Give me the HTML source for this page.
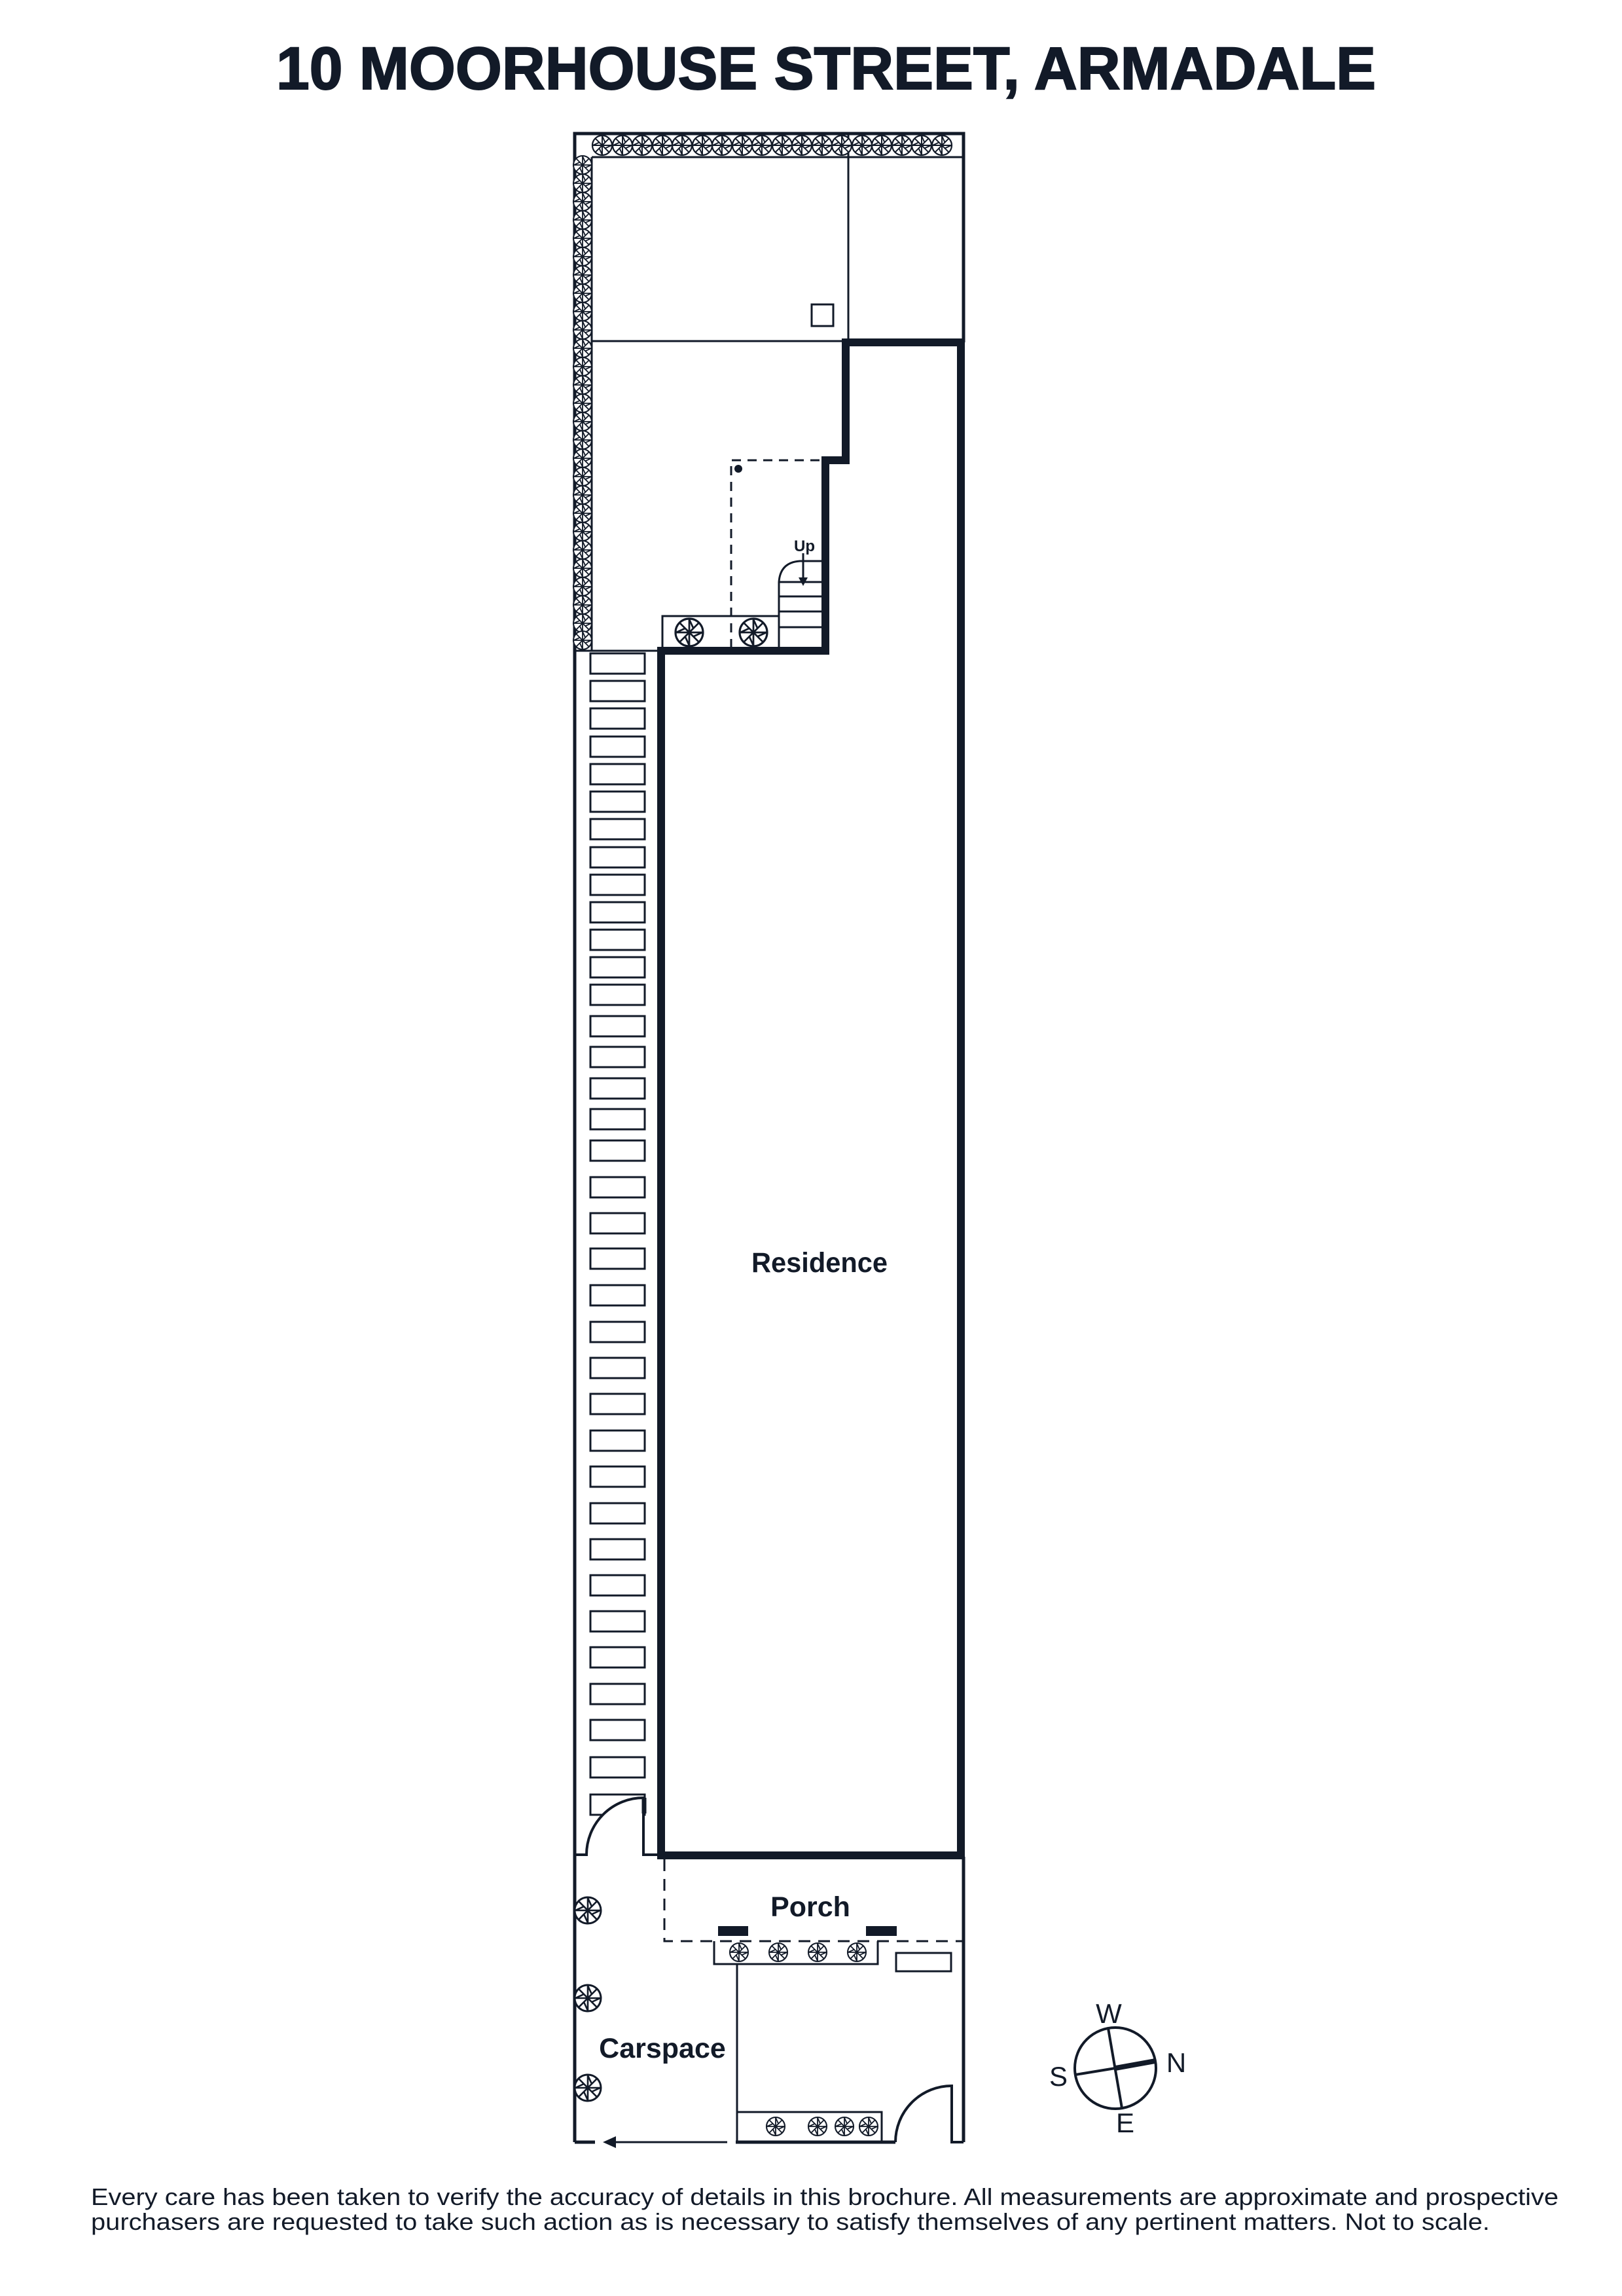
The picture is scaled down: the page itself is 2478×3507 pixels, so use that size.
<!DOCTYPE html>
<html><head><meta charset="utf-8"><style>
html,body{margin:0;padding:0;background:#fff;}
svg{display:block;}
text{font-family:"Liberation Sans",sans-serif;fill:#121a28;}
</style></head><body>
<svg width="2478" height="3507" viewBox="0 0 2478 3507" xmlns="http://www.w3.org/2000/svg">
<defs>
<g id="p">
<circle r="1" fill="#fff" stroke="#121a28" stroke-width="0.15"/>
<path d="M0,0L0,-0.95M0,0L0.67,-0.67M0,0L0.95,0M0,0L0.67,0.67M0,0L0,0.95M0,0L-0.67,0.67M0,0L-0.95,0M0,0L-0.67,-0.67M0,-0.95L0.3,-0.3M0.95,0L0.3,0.3M0,0.95L-0.3,0.3M-0.95,0L-0.3,-0.3" stroke="#121a28" stroke-width="0.13" fill="none"/>
</g>
</defs>
<g stroke="#121a28" fill="none">
<text x="1262" y="136" font-size="92" font-weight="bold" text-anchor="middle" textLength="1680" lengthAdjust="spacingAndGlyphs" stroke="#121a28" stroke-width="2">10 MOORHOUSE STREET, ARMADALE</text>

<path d="M878,3272 L878,204 L1472,204 L1472,523" stroke-width="5"/>
<line x1="1472" y1="2836" x2="1472" y2="3272" stroke-width="5"/>
<line x1="904" y1="240" x2="1472" y2="240" stroke-width="3"/>
<line x1="904" y1="240" x2="904" y2="994" stroke-width="3"/>
<line x1="1296" y1="204" x2="1296" y2="523" stroke-width="3"/>
<line x1="904" y1="521" x2="1296" y2="521" stroke-width="3"/>
<line x1="878" y1="994" x2="1010" y2="994" stroke-width="3"/>
<rect x="1240" y="465" width="33" height="33" stroke-width="3"/>

<path d="M1010,2834 L1010,994 L1261,994 L1261,703 L1292,703 L1292,523 L1468,523 L1468,2834 Z" stroke-width="12"/>

<path d="M1117,990 L1117,703 L1255,703" stroke-width="3" stroke-dasharray="14,10"/>
<circle cx="1128" cy="716" r="6" fill="#121a28" stroke="none"/>
<rect x="1012" y="941" width="178" height="53" stroke-width="3"/>
<path d="M1190,994 L1190,889 Q1192,859 1222,857 L1255,857" stroke-width="3"/>
<path d="M1190,889H1255M1190,911H1255M1190,934H1255M1190,958H1255" stroke-width="3"/>
<line x1="1227" y1="845" x2="1227" y2="885" stroke-width="3"/>
<path d="M1220,882 L1234,882 L1227,895 Z" fill="#121a28" stroke="none"/>
<text x="1229" y="842" font-size="24" font-weight="bold" text-anchor="middle" stroke="none">Up</text>

<g stroke-width="3">
<rect x="902" y="998" width="83" height="31"/><rect x="902" y="1040" width="83" height="31"/><rect x="902" y="1082" width="83" height="31"/><rect x="902" y="1125" width="83" height="31"/><rect x="902" y="1167" width="83" height="31"/><rect x="902" y="1209" width="83" height="31"/><rect x="902" y="1251" width="83" height="31"/><rect x="902" y="1294" width="83" height="31"/><rect x="902" y="1336" width="83" height="31"/><rect x="902" y="1378" width="83" height="31"/><rect x="902" y="1420" width="83" height="31"/><rect x="902" y="1462" width="83" height="31"/><rect x="902" y="1504" width="83" height="31"/><rect x="902" y="1552" width="83" height="31"/><rect x="902" y="1599" width="83" height="31"/><rect x="902" y="1647" width="83" height="31"/><rect x="902" y="1694" width="83" height="31"/><rect x="902" y="1742" width="83" height="31"/><rect x="902" y="1798" width="83" height="31"/><rect x="902" y="1853" width="83" height="31"/><rect x="902" y="1907" width="83" height="31"/><rect x="902" y="1963" width="83" height="31"/><rect x="902" y="2019" width="83" height="31"/><rect x="902" y="2074" width="83" height="31"/><rect x="902" y="2129" width="83" height="31"/><rect x="902" y="2185" width="83" height="31"/><rect x="902" y="2240" width="83" height="31"/><rect x="902" y="2296" width="83" height="31"/><rect x="902" y="2351" width="83" height="31"/><rect x="902" y="2406" width="83" height="31"/><rect x="902" y="2461" width="83" height="31"/><rect x="902" y="2516" width="83" height="31"/><rect x="902" y="2572" width="83" height="31"/><rect x="902" y="2627" width="83" height="31"/><rect x="902" y="2684" width="83" height="31"/><rect x="902" y="2741" width="83" height="31"/>
</g>
<path d="M878,2833 L896,2833 A87,87 0 0 1 983,2746 L983,2833 L1010,2833" stroke-width="4" fill="#fff"/>
<line x1="984" y1="2746" x2="984" y2="2770" stroke-width="7"/>

<path d="M1015,2840 L1015,2965 L1472,2965" stroke-width="3" stroke-dasharray="18,12"/>
<rect x="1097" y="2942" width="46" height="15" fill="#121a28" stroke="none"/>
<rect x="1323" y="2942" width="47" height="15" fill="#121a28" stroke="none"/>
<path d="M1091,2965 L1091,3000 L1341,3000 L1341,2965" stroke-width="3"/>
<rect x="1369" y="2983" width="84" height="28" stroke-width="3"/>
<line x1="1126" y1="3000" x2="1126" y2="3272" stroke-width="3"/>
<rect x="1126" y="3226" width="221" height="46" stroke-width="3"/>
<line x1="878" y1="3272" x2="909" y2="3272" stroke-width="5"/>
<line x1="936" y1="3272" x2="1111" y2="3272" stroke-width="3"/>
<path d="M921,3272 L941,3263 L941,3281 Z" fill="#121a28" stroke="none"/>
<line x1="1124" y1="3272" x2="1368" y2="3272" stroke-width="5"/>
<path d="M1368,3272 A86,86 0 0 1 1454,3186 L1454,3272 L1472,3272" stroke-width="4"/>
</g>

<g>
<use href="#p" transform="translate(920,222) scale(15)"/><use href="#p" transform="translate(951,222) scale(15)"/><use href="#p" transform="translate(981,222) scale(15)"/><use href="#p" transform="translate(1012,222) scale(15)"/><use href="#p" transform="translate(1042,222) scale(15)"/><use href="#p" transform="translate(1073,222) scale(15)"/><use href="#p" transform="translate(1103,222) scale(15)"/><use href="#p" transform="translate(1134,222) scale(15)"/><use href="#p" transform="translate(1164,222) scale(15)"/><use href="#p" transform="translate(1195,222) scale(15)"/><use href="#p" transform="translate(1225,222) scale(15)"/><use href="#p" transform="translate(1256,222) scale(15)"/><use href="#p" transform="translate(1286,222) scale(15)"/><use href="#p" transform="translate(1317,222) scale(15)"/><use href="#p" transform="translate(1347,222) scale(15)"/><use href="#p" transform="translate(1378,222) scale(15)"/><use href="#p" transform="translate(1408,222) scale(15)"/><use href="#p" transform="translate(1439,222) scale(15)"/>
<use href="#p" transform="translate(890,252) scale(14)"/><use href="#p" transform="translate(890,280) scale(14)"/><use href="#p" transform="translate(890,308) scale(14)"/><use href="#p" transform="translate(890,336) scale(14)"/><use href="#p" transform="translate(890,364) scale(14)"/><use href="#p" transform="translate(890,392) scale(14)"/><use href="#p" transform="translate(890,420) scale(14)"/><use href="#p" transform="translate(890,448) scale(14)"/><use href="#p" transform="translate(890,476) scale(14)"/><use href="#p" transform="translate(890,504) scale(14)"/><use href="#p" transform="translate(890,532) scale(14)"/><use href="#p" transform="translate(890,560) scale(14)"/><use href="#p" transform="translate(890,588) scale(14)"/><use href="#p" transform="translate(890,616) scale(14)"/><use href="#p" transform="translate(890,644) scale(14)"/><use href="#p" transform="translate(890,672) scale(14)"/><use href="#p" transform="translate(890,700) scale(14)"/><use href="#p" transform="translate(890,728) scale(14)"/><use href="#p" transform="translate(890,756) scale(14)"/><use href="#p" transform="translate(890,784) scale(14)"/><use href="#p" transform="translate(890,812) scale(14)"/><use href="#p" transform="translate(890,840) scale(14)"/><use href="#p" transform="translate(890,868) scale(14)"/><use href="#p" transform="translate(890,896) scale(14)"/><use href="#p" transform="translate(890,924) scale(14)"/><use href="#p" transform="translate(890,952) scale(14)"/><use href="#p" transform="translate(890,978) scale(14)"/>
<use href="#p" transform="translate(1053,966) scale(21)"/><use href="#p" transform="translate(1151,966) scale(21)"/>
<use href="#p" transform="translate(898,2918) scale(20)"/><use href="#p" transform="translate(898,3052) scale(20)"/><use href="#p" transform="translate(898,3189) scale(20)"/>
<use href="#p" transform="translate(1129,2982) scale(14)"/><use href="#p" transform="translate(1189,2982) scale(14)"/><use href="#p" transform="translate(1249,2982) scale(14)"/><use href="#p" transform="translate(1309,2982) scale(14)"/>
<use href="#p" transform="translate(1185,3248) scale(14)"/><use href="#p" transform="translate(1249,3248) scale(14)"/><use href="#p" transform="translate(1290,3248) scale(14)"/><use href="#p" transform="translate(1327,3248) scale(14)"/>
</g>

<text x="1252" y="1943" font-size="43" font-weight="bold" text-anchor="middle" textLength="208" lengthAdjust="spacingAndGlyphs">Residence</text>
<text x="1238" y="2927" font-size="43" font-weight="bold" text-anchor="middle">Porch</text>
<text x="1012" y="3143" font-size="43" font-weight="bold" text-anchor="middle">Carspace</text>

<g stroke="#121a28" fill="none">
<circle cx="1704" cy="3159" r="62" stroke-width="4"/>
<line x1="1693" y1="3098" x2="1714" y2="3220" stroke-width="4"/>
<line x1="1643" y1="3169" x2="1704" y2="3159" stroke-width="4"/>
<line x1="1704" y1="3159" x2="1765" y2="3148" stroke-width="8"/>
</g>
<text x="1694" y="3090" font-size="42" text-anchor="middle">W</text>
<text x="1797" y="3165" font-size="42" text-anchor="middle">N</text>
<text x="1617" y="3186" font-size="42" text-anchor="middle">S</text>
<text x="1719" y="3257" font-size="42" text-anchor="middle">E</text>

<text x="139" y="3368" font-size="36" textLength="2242" lengthAdjust="spacingAndGlyphs">Every care has been taken to verify the accuracy of details in this brochure. All measurements are approximate and prospective</text>
<text x="139" y="3406" font-size="36" textLength="2137" lengthAdjust="spacingAndGlyphs">purchasers are requested to take such action as is necessary to satisfy themselves of any pertinent matters. Not to scale.</text>
</svg>
</body></html>
